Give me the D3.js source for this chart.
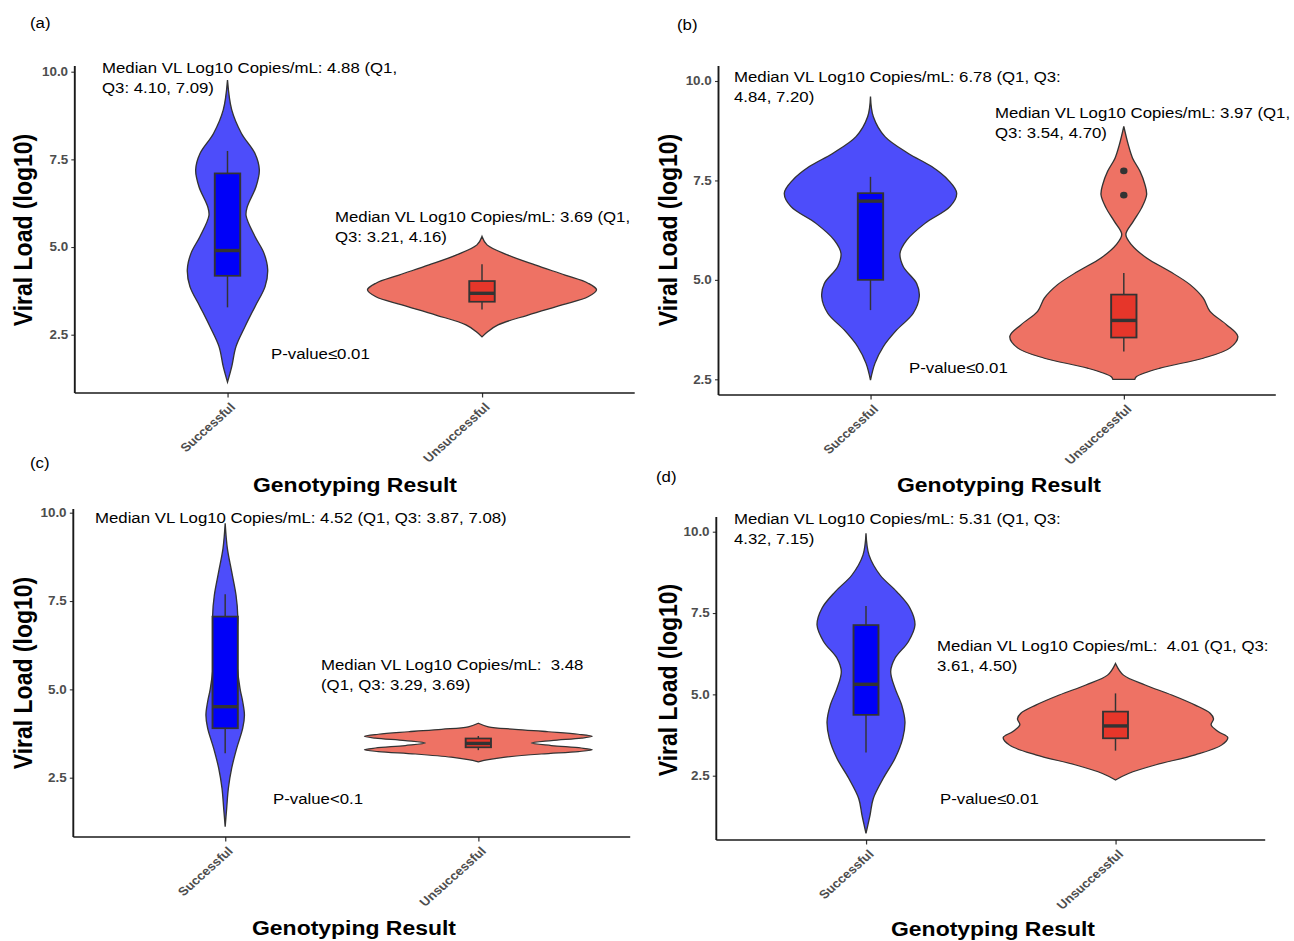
<!DOCTYPE html>
<html lang="en">
<head>
<meta charset="UTF-8">
<script src="https://cdn.jsdelivr.net/npm/d3@7/dist/d3.min.js"></script>
<title>Viral load by genotyping result</title>
<style>
    body { margin: 0; background: #fff; }
    svg { display: block; }
    text { font-family: "Liberation Sans", Arial, Helvetica, sans-serif; }
    .note { font-size: 15px; fill: #000; white-space: pre; }
    .panel-tag { font-size: 15px; fill: #000; }
    .tick text { font-size: 12px; font-weight: bold; fill: #4d4d4d; }
    .tick line { stroke: #333; stroke-width: 1.1px; }
    .ax-title { font-size: 20.5px; font-weight: bold; fill: #000; }
    .ax-title.yt { font-size: 23px; }
</style>
</head>
<body>
<svg id="fig"></svg>
<script>
const W = 1294, H = 941;
const K = 1.12; // the figure is stretched sideways, so draw in narrower units

const groups = ["Successful", "Unsuccessful"];
const yTicks = [2.5, 5.0, 7.5, 10.0];

// violin outlines: [log10 VL, relative half width]
const violinA1 = [[9.76,0],[8.91,.037],[8.24,.122],[7.67,.24],[7.20,.278],[6.72,.249],[6.15,.173],[5.90,.162],[5.30,.24],[4.82,.319],[4.35,.351],[3.87,.328],[3.30,.24],[2.73,.153],[2.16,.074],[1.59,.037],[1.15,0]];
const violinA2 = [[5.30,0],[5.06,.044],[4.77,.227],[4.49,.463],[4.20,.725],[3.97,.926],[3.78,1],[3.58,.926],[3.35,.699],[3.06,.402],[2.78,.14],[2.59,.052],[2.44,0]];
const violinB1 = [[9.61,0],[9.10,.025],[8.60,.127],[8.18,.332],[7.85,.537],[7.51,.682],[7.18,.756],[6.84,.697],[6.42,.478],[6.00,.318],[5.67,.259],[5.33,.288],[4.91,.405],[4.58,.428],[4.16,.375],[3.74,.23],[3.32,.112],[2.90,.039],[2.48,0]];
const violinB2 = [[8.86,0],[8.40,.039],[8.06,.077],[7.73,.142],[7.39,.186],[7.14,.2],[6.81,.156],[6.47,.083],[6.14,.018],[5.88,.068],[5.55,.2],[5.21,.405],[4.88,.581],[4.54,.697],[4.21,.756],[3.87,.902],[3.58,1],[3.29,.932],[3.03,.697],[2.78,.318],[2.57,.112],[2.50,.096]];
const violinC1 = [[9.70,0],[8.99,.019],[8.33,.057],[7.67,.095],[7.10,.11],[6.0,.097],[5.03,.13],[4.65,.154],[4.27,.169],[3.90,.154],[3.33,.101],[2.77,.057],[2.20,.028],[1.63,.013],[1.11,0]];
const violinC2 = [[4.04,0],[3.94,.088],[3.87,.322],[3.80,.615],[3.73,.878],[3.67,1],[3.62,.904],[3.55,.641],[3.48,.465],[3.41,.641],[3.34,.904],[3.29,1],[3.24,.878],[3.17,.553],[3.08,.237],[3.01,.088],[2.95,0]];
const violinD1 = [[9.95,0],[9.28,.027],[8.67,.125],[8.16,.273],[7.65,.392],[7.13,.436],[6.62,.377],[6.11,.258],[5.70,.22],[5.19,.258],[4.67,.318],[4.16,.347],[3.65,.327],[3.03,.258],[2.42,.154],[1.80,.065],[1.29,.036],[0.73,0]];
const violinD2 = [[5.95,0],[5.59,.071],[5.29,.264],[4.98,.501],[4.67,.71],[4.42,.843],[4.25,.873],[4.06,.852],[3.85,.917],[3.67,1],[3.44,.944],[3.14,.71],[2.83,.354],[2.57,.116],[2.37,0]];

// box stats per group: [lower whisker, Q1, median, Q3, upper whisker]
const boxA = [[3.28, 4.18, 4.90, 7.10, 7.74], [3.22, 3.44, 3.68, 4.03, 4.51]];
const boxB = [[4.24, 5.00, 6.98, 7.18, 7.59], [3.20, 3.55, 3.98, 4.63, 5.17]];
const boxC = [[3.19, 3.90, 4.51, 7.06, 7.69], [3.28, 3.36, 3.47, 3.61, 3.68]];
const boxD = [[3.21, 4.37, 5.31, 7.13, 7.72], [3.27, 3.65, 4.03, 4.47, 5.03]];
const outliersB = [[], [7.13, 7.74]];

const notesA = [["Median VL Log10 Copies/mL: 4.88 (Q1,", "Q3: 4.10, 7.09)"], ["Median VL Log10 Copies/mL: 3.69 (Q1,", "Q3: 3.21, 4.16)"]];
const notesB = [["Median VL Log10 Copies/mL: 6.78 (Q1, Q3:", "4.84, 7.20)"], ["Median VL Log10 Copies/mL: 3.97 (Q1,", "Q3: 3.54, 4.70)"]];
const notesC = [["Median VL Log10 Copies/mL: 4.52 (Q1, Q3: 3.87, 7.08)"], ["Median VL Log10 Copies/mL:  3.48", "(Q1, Q3: 3.29, 3.69)"]];
const notesD = [["Median VL Log10 Copies/mL: 5.31 (Q1, Q3:", "4.32, 7.15)"], ["Median VL Log10 Copies/mL:  4.01 (Q1, Q3:", "3.61, 4.50)"]];
const pValues = ["P-value≤0.01", "P-value≤0.01", "P-value<0.1", "P-value≤0.01"];
const tags = ["(a)", "(b)", "(c)", "(d)"];

const violinFill = ["#4d4dfa", "#ee7264"];
const boxFill = ["#0000f8", "#e6362a"];

// layout in picture pixels
const panels = [
    { left: 74.8, right: 634.7, top: 66, bottom: 393, y10: 71.7, y25: 334.7, tag: [30, 28],
      violins: [violinA1, violinA2], boxes: boxA, outliers: [[], []], notes: notesA,
      notePos: [[102, 73], [335, 222.5]], pPos: [271, 359], yTitle: [31, 230], xTitle: [355, 492] },
    { left: 718.5, right: 1275.8, top: 66, bottom: 395, y10: 81, y25: 379.3, tag: [677, 30],
      violins: [violinB1, violinB2], boxes: boxB, outliers: outliersB, notes: notesB,
      notePos: [[734, 82], [995, 118.5]], pPos: [909, 373], yTitle: [676, 230], xTitle: [999, 492] },
    { left: 73.3, right: 630.2, top: 509, bottom: 837, y10: 512.7, y25: 777.7, tag: [30, 468],
      violins: [violinC1, violinC2], boxes: boxC, outliers: [[], []], notes: notesC,
      notePos: [[95, 523], [321, 670]], pPos: [273, 804.5], yTitle: [31, 673], xTitle: [354, 935] },
    { left: 716.3, right: 1265.2, top: 517, bottom: 840, y10: 531.7, y25: 775.7, tag: [656, 482],
      violins: [violinD1, violinD2], boxes: boxD, outliers: [[], []], notes: notesD,
      notePos: [[734, 524], [937, 651.5]], pPos: [940, 804.5], yTitle: [676, 680], xTitle: [993, 936] }
];

const svg = d3.select("#fig")
    .attr("width", W)
    .attr("height", H)
    .attr("viewBox", `0 0 ${W / K} ${H}`)
    .attr("preserveAspectRatio", "none");

panels.forEach((p, i) => {
    const g = svg.append("g");
    const x = d3.scalePoint().domain(groups).range([p.left / K, p.right / K]).padding(0.6);
    const y = d3.scaleLinear().domain([2.5, 10]).range([p.y25, p.y10]);
    const half = x.step() * 0.45;
    const boxHalf = x.step() * 0.05;

    // violins
    groups.forEach((grp, j) => {
        const cx = x(grp);
        const area = d3.area()
            .y(d => y(d[0]))
            .x0(d => cx - d[1] * half)
            .x1(d => cx + d[1] * half)
            .curve(d3.curveCatmullRom);
        g.append("path")
            .datum(p.violins[j])
            .attr("d", area)
            .attr("fill", violinFill[j])
            .attr("stroke", "#333")
            .attr("stroke-width", 1.2);
    });

    // boxplots
    const bx = g.selectAll(".box").data(p.boxes).enter().append("g").attr("class", "box");
    bx.append("line")
        .attr("x1", (d, j) => x(groups[j])).attr("x2", (d, j) => x(groups[j]))
        .attr("y1", d => y(d[4])).attr("y2", d => y(d[0]))
        .attr("stroke", "#333").attr("stroke-width", 1.3);
    bx.append("rect")
        .attr("x", (d, j) => x(groups[j]) - boxHalf)
        .attr("width", boxHalf * 2)
        .attr("y", d => y(d[3]))
        .attr("height", d => y(d[1]) - y(d[3]))
        .attr("fill", (d, j) => boxFill[j])
        .attr("stroke", "#333").attr("stroke-width", 1.7);
    bx.append("line")
        .attr("x1", (d, j) => x(groups[j]) - boxHalf).attr("x2", (d, j) => x(groups[j]) + boxHalf)
        .attr("y1", d => y(d[2])).attr("y2", d => y(d[2]))
        .attr("stroke", "#333").attr("stroke-width", 3.4);

    p.outliers.forEach((vals, j) => {
        g.selectAll(null).data(vals).enter().append("circle")
            .attr("cx", x(groups[j]))
            .attr("cy", d => y(d))
            .attr("r", 3.3)
            .attr("fill", "#333");
    });

    // axes
    const yAxis = g.append("g")
        .attr("transform", `translate(${p.left / K},0)`)
        .call(d3.axisLeft(y).tickValues(yTicks).tickFormat(d3.format(".1f"))
            .tickSize(3.5 / K).tickPadding(3.2 / K));
    yAxis.select(".domain").remove();

    const xAxis = g.append("g")
        .attr("transform", `translate(0,${p.bottom})`)
        .call(d3.axisBottom(x).tickSize(4.5).tickPadding(0));
    xAxis.select(".domain").remove();
    xAxis.selectAll(".tick text")
        .attr("x", 0).attr("y", 0).attr("dy", 0)
        .attr("text-anchor", "end")
        .attr("transform", `translate(${8 / K},15) rotate(-45)`);

    g.append("line")
        .attr("x1", p.left / K).attr("x2", p.left / K)
        .attr("y1", p.top).attr("y2", p.bottom)
        .attr("stroke", "#1a1a1a").attr("stroke-width", 1.7);
    g.append("line")
        .attr("x1", p.left / K).attr("x2", p.right / K)
        .attr("y1", p.bottom).attr("y2", p.bottom)
        .attr("stroke", "#1a1a1a").attr("stroke-width", 1.7);

    // titles
    g.append("text").attr("class", "ax-title yt")
        .attr("text-anchor", "middle")
        .attr("transform", `translate(${(p.yTitle[0] + 1) / K},${p.yTitle[1]}) rotate(-90)`)
        .text("Viral Load (log10)");
    g.append("text").attr("class", "ax-title")
        .attr("text-anchor", "middle")
        .attr("x", p.xTitle[0] / K).attr("y", p.xTitle[1])
        .text("Genotyping Result");
    g.append("text").attr("class", "panel-tag")
        .attr("x", p.tag[0] / K).attr("y", p.tag[1])
        .text(tags[i]);

    // annotations
    p.notes.forEach((lines, j) => {
        const t = g.append("text").attr("class", "note")
            .attr("x", p.notePos[j][0] / K).attr("y", p.notePos[j][1]);
        lines.forEach((ln, k) => {
            t.append("tspan")
                .attr("x", p.notePos[j][0] / K)
                .attr("dy", k === 0 ? 0 : 20)
                .text(ln);
        });
    });
    g.append("text").attr("class", "note")
        .attr("x", p.pPos[0] / K).attr("y", p.pPos[1])
        .text(pValues[i]);
});
</script>
</body>
</html>
